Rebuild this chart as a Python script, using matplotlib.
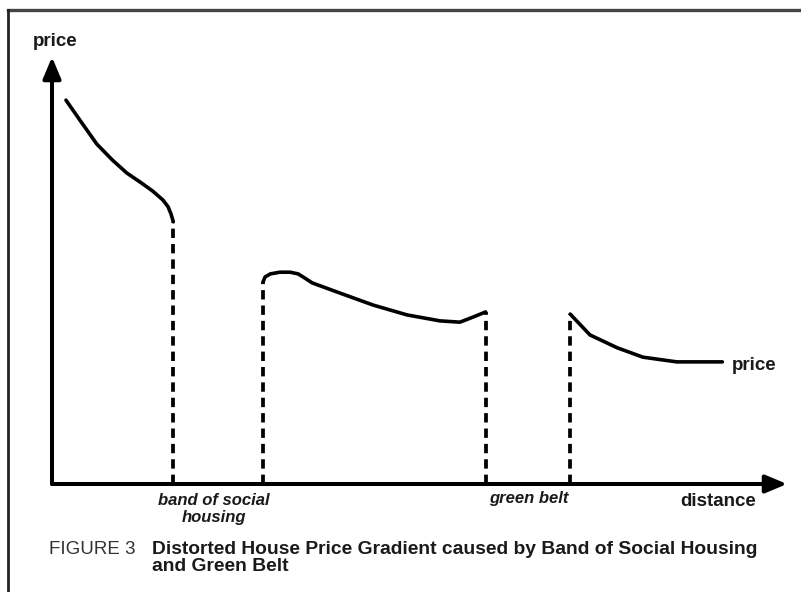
import matplotlib
matplotlib.use("Agg")
import matplotlib.pyplot as plt
from matplotlib.lines import Line2D

plt.rcParams['font.family'] = ['Liberation Sans', 'DejaVu Sans']

# ---- data (distance 0..100, price 0..100) ----
dist_inner = [1.9, 3.8, 6.1, 8.2, 10.2, 12.0, 13.7, 15.1, 15.8, 16.2, 16.5]
price_inner = [89.9, 85.2, 79.6, 75.9, 72.8, 70.7, 68.6, 66.5, 64.9, 63.2, 61.4]

dist_mid = [28.7, 29.0, 29.7, 31.0, 32.4, 33.5, 34.6, 35.4, 39.2, 43.7, 48.3, 52.8, 55.5, 57.3, 59.0]
price_mid = [47.3, 48.5, 49.2, 49.6, 49.6, 49.2, 48.0, 47.1, 44.7, 41.9, 39.6, 38.2, 37.9, 39.1, 40.3]

dist_outer = [70.5, 73.2, 76.9, 80.4, 85.0, 91.2]
price_outer = [39.8, 34.9, 31.9, 29.7, 28.6, 28.6]

# boundaries of the distortions: (distance, price at top of dashed line)
boundary_dist = [16.5, 28.7, 59.0, 70.5]
boundary_price = [61.4, 47.3, 40.3, 39.8]

band_labels = ["band of social\nhousing", "green belt"]

W, H = 801, 592
fig = plt.figure(figsize=(W / 100, H / 100), dpi=100)
fig.patch.set_facecolor('white')

def fx(px):
    return px / W

def fy(py):
    return 1 - py / H

# frame lines (top and left)
fig.add_artist(Line2D([fx(8), 1.0], [fy(10), fy(10)], color='#444444', lw=2.4))
fig.add_artist(Line2D([fx(8), fx(8)], [fy(10), 0.0], color='#222222', lw=2.0))

ax = fig.add_axes([fx(52), fy(484), (787 - 52) / W, (484 - 57) / H])
ax.set_xlim(0, 100)
ax.set_ylim(0, 100)
ax.axis('off')

# axes with arrows
arrow_kw = dict(arrowstyle='-|>,head_length=1.0,head_width=0.42', lw=2.9,
                color='black', shrinkA=0, shrinkB=0, mutation_scale=13)
ax.annotate('', xy=(1, 0), xytext=(0, 0), xycoords='axes fraction',
            textcoords='axes fraction', arrowprops=arrow_kw, annotation_clip=False)
ax.annotate('', xy=(0, 1), xytext=(0, 0), xycoords='axes fraction',
            textcoords='axes fraction', arrowprops=arrow_kw, annotation_clip=False)

line_kw = dict(color='black', lw=2.6, solid_capstyle='round', solid_joinstyle='round')
ax.plot(dist_inner, price_inner, **line_kw)
ax.plot(dist_mid, price_mid, **line_kw)
ax.plot(dist_outer, price_outer, **line_kw)

for d, p in zip(boundary_dist, boundary_price):
    ax.plot([d, d], [0, p], color='black', lw=2.7, linestyle=(0, (2.5, 1.6)),
            dash_capstyle='butt')

# labels
fig.text(fx(55), fy(42), 'price', ha='center', va='center', fontsize=13.5,
         fontweight='bold', color='#1a1a1a')
fig.text(fx(754), fy(366), 'price', ha='center', va='center', fontsize=13.5,
         fontweight='bold', color='#1a1a1a')
fig.text(fx(718), fy(501), 'distance', ha='center', va='center', fontsize=13.5,
         fontweight='bold', color='#1a1a1a')
fig.text(fx(214), fy(509), band_labels[0], ha='center', va='center', fontsize=12,
         fontweight='bold', fontstyle='italic', color='#1a1a1a', linespacing=1.2)
fig.text(fx(529), fy(499), band_labels[1], ha='center', va='center', fontsize=12,
         fontweight='bold', fontstyle='italic', color='#1a1a1a')

# caption
fig.text(fx(49), fy(550), 'FIGURE 3', ha='left', va='center', fontsize=13.5,
         color='#333333')
fig.text(fx(152), fy(558), 'Distorted House Price Gradient caused by Band of Social Housing\nand Green Belt',
         ha='left', va='center', fontsize=13.9, fontweight='bold', color='#1a1a1a',
         linespacing=0.98)

fig.savefig('out.png', dpi=100, facecolor='white')
